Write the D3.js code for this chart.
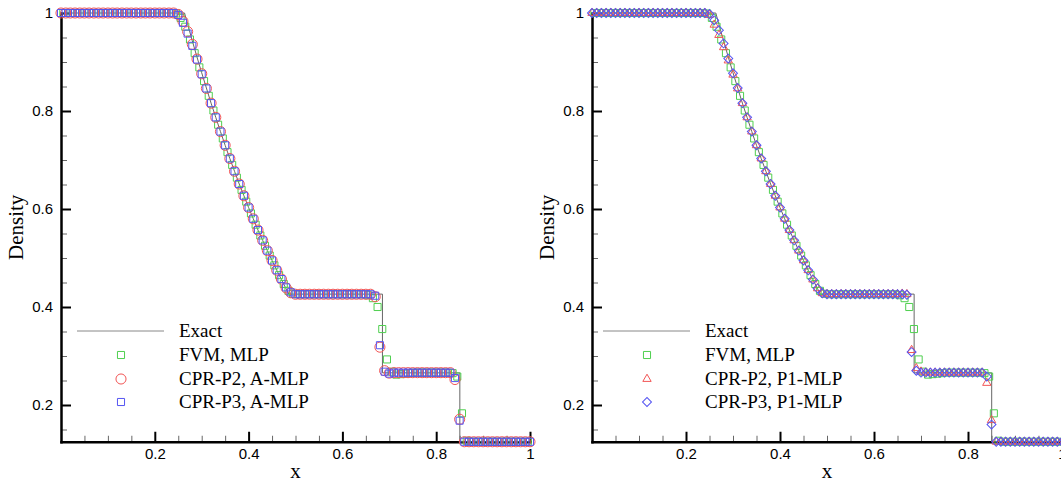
<!DOCTYPE html>
<html>
<head>
<meta charset="utf-8">
<script src="https://cdn.jsdelivr.net/npm/d3@7"></script>
<style>
  body { margin: 0; background: #fff; }
  svg { display: block; }
</style>
</head>
<body>
<div id="chart"></div>
<script>
// exact Sod solution
const exactX = [0, 0.2634, 0.27, 0.28, 0.29, 0.30, 0.31, 0.32, 0.33, 0.34, 0.35, 0.36, 0.37, 0.38, 0.39, 0.40,
  0.41, 0.42, 0.43, 0.44, 0.45, 0.46, 0.47, 0.48, 0.4859, 0.6854, 0.6854, 0.8504, 0.8504, 1];
const exactY = [1, 1, 0.977, 0.943, 0.910, 0.878, 0.847, 0.816, 0.787, 0.758, 0.730, 0.703, 0.677, 0.651, 0.627, 0.603,
  0.580, 0.557, 0.536, 0.515, 0.495, 0.475, 0.456, 0.437, 0.4263, 0.4263, 0.2656, 0.2656, 0.125, 0.125];

// FVM cell centres
const fvmX = [0.005,0.015,0.025,0.035,0.045,0.055,0.065,0.075,0.085,0.095,
  0.105,0.115,0.125,0.135,0.145,0.155,0.165,0.175,0.185,0.195,
  0.205,0.215,0.225,0.235,0.245,0.255,0.265,0.275,0.285,0.295,
  0.305,0.315,0.325,0.335,0.345,0.355,0.365,0.375,0.385,0.395,
  0.405,0.415,0.425,0.435,0.445,0.455,0.465,0.475,0.485,0.495,
  0.505,0.515,0.525,0.535,0.545,0.555,0.565,0.575,0.585,0.595,
  0.605,0.615,0.625,0.635,0.645,0.655,0.665,0.675,0.685,0.695,
  0.705,0.715,0.725,0.735,0.745,0.755,0.765,0.775,0.785,0.795,
  0.805,0.815,0.825,0.835,0.845,0.855,0.865,0.875,0.885,0.895,
  0.905,0.915,0.925,0.935,0.945,0.955,0.965,0.975,0.985,0.995];
const fvmY = [1,1,1,1,1,1,1,1,1,1, 1,1,1,1,1,1,1,1,1,1, 1,1,1,1,0.999,0.990,0.972,0.946,0.918,0.889,
  0.861,0.831,0.801,0.772,0.744,0.716,0.690,0.664,0.639,0.615, 0.591,0.568,0.546,0.525,0.505,0.485,0.465,0.447,0.433,0.427,
  0.426,0.426,0.426,0.426,0.426,0.426,0.426,0.426,0.426,0.426, 0.426,0.426,0.426,0.426,0.426,0.424,0.418,0.400,0.355,0.293,
  0.268,0.262,0.263,0.264,0.265,0.266,0.266,0.266,0.266,0.266, 0.266,0.266,0.266,0.265,0.258,0.183,0.127,0.125,0.125,0.125,
  0.125,0.125,0.125,0.125,0.125,0.125,0.125,0.125,0.125,0.125];

// CPR solution points
const cprX = [0,0.01,0.02,0.03,0.04,0.05,0.06,0.07,0.08,0.09,
  0.10,0.11,0.12,0.13,0.14,0.15,0.16,0.17,0.18,0.19,
  0.20,0.21,0.22,0.23,0.24,0.25,0.26,0.27,0.28,0.29,
  0.30,0.31,0.32,0.33,0.34,0.35,0.36,0.37,0.38,0.39,
  0.40,0.41,0.42,0.43,0.44,0.45,0.46,0.47,0.48,0.49,
  0.50,0.51,0.52,0.53,0.54,0.55,0.56,0.57,0.58,0.59,
  0.60,0.61,0.62,0.63,0.64,0.65,0.66,0.67,0.68,0.69,
  0.70,0.71,0.72,0.73,0.74,0.75,0.76,0.77,0.78,0.79,
  0.80,0.81,0.82,0.83,0.84,0.85,0.86,0.87,0.88,0.89,
  0.90,0.91,0.92,0.93,0.94,0.95,0.96,0.97,0.98,0.99,1.00];

const p2AmlpY = [1,1,1,1,1,1,1,1,1,1, 1,1,1,1,1,1,1,1,1,1, 1,1,1,1,1,0.997,0.983,0.962,0.936,0.906,
  0.876,0.846,0.816,0.787,0.758,0.730,0.703,0.677,0.651,0.627, 0.603,0.580,0.557,0.536,0.515,0.495,0.475,0.457,0.439,0.429,
  0.426,0.426,0.426,0.426,0.426,0.426,0.426,0.426,0.426,0.426, 0.426,0.426,0.426,0.426,0.426,0.426,0.426,0.421,0.318,0.270,
  0.265,0.266,0.266,0.266,0.266,0.266,0.266,0.266,0.266,0.266, 0.266,0.266,0.266,0.266,0.252,0.171,0.125,0.125,0.125,0.125,
  0.125,0.125,0.125,0.125,0.125,0.125,0.125,0.125,0.125,0.125,0.125];
const p3AmlpY = [1,1,1,1,1,1,1,1,1,1, 1,1,1,1,1,1,1,1,1,1, 1,1,1,1,1,0.996,0.980,0.958,0.933,0.905,
  0.875,0.846,0.816,0.787,0.758,0.730,0.703,0.677,0.651,0.627, 0.603,0.580,0.557,0.536,0.515,0.495,0.475,0.457,0.440,0.430,
  0.426,0.426,0.426,0.426,0.426,0.426,0.426,0.426,0.426,0.426, 0.426,0.426,0.426,0.426,0.426,0.426,0.426,0.423,0.322,0.268,
  0.264,0.266,0.266,0.266,0.266,0.266,0.266,0.266,0.266,0.266, 0.266,0.266,0.266,0.266,0.255,0.168,0.125,0.125,0.125,0.125,
  0.125,0.125,0.125,0.125,0.125,0.125,0.125,0.125,0.125,0.125,0.125];
const p2P1mlpY = [1,1,1,1,1,1,1,1,1,1, 1,1,1,1,1,1,1,1,1,1, 1,1,1,1,1,0.996,0.976,0.955,0.930,0.903,
  0.874,0.846,0.816,0.787,0.758,0.730,0.703,0.677,0.651,0.627, 0.603,0.580,0.557,0.536,0.515,0.495,0.475,0.456,0.438,0.428,
  0.426,0.426,0.426,0.426,0.426,0.426,0.426,0.426,0.426,0.426, 0.426,0.426,0.426,0.426,0.426,0.426,0.427,0.426,0.312,0.275,
  0.268,0.266,0.266,0.266,0.266,0.266,0.266,0.266,0.266,0.266, 0.266,0.266,0.266,0.266,0.245,0.169,0.125,0.125,0.125,0.125,
  0.125,0.125,0.125,0.125,0.125,0.125,0.125,0.125,0.125,0.125,0.125];
const p3P1mlpY = [1,1,1,1,1,1,1,1,1,1, 1,1,1,1,1,1,1,1,1,1, 1,1,1,1,1,0.998,0.985,0.965,0.938,0.907,
  0.877,0.847,0.816,0.787,0.758,0.730,0.703,0.677,0.651,0.627, 0.603,0.580,0.557,0.536,0.515,0.495,0.475,0.456,0.438,0.428,
  0.426,0.426,0.426,0.426,0.426,0.426,0.426,0.426,0.426,0.426, 0.426,0.426,0.426,0.426,0.426,0.426,0.426,0.425,0.308,0.270,
  0.266,0.266,0.266,0.266,0.266,0.266,0.266,0.266,0.266,0.266, 0.266,0.266,0.266,0.266,0.258,0.160,0.125,0.125,0.125,0.125,
  0.125,0.125,0.125,0.125,0.125,0.125,0.125,0.125,0.125,0.125,0.125];

const xMajor = [0.2, 0.4, 0.6, 0.8, 1];
const xMinor = [0.05,0.1,0.15,0.25,0.3,0.35,0.45,0.5,0.55,0.65,0.7,0.75,0.85,0.9,0.95];
const yMajor = [0.2, 0.4, 0.6, 0.8, 1];
const yMinor = [0.15,0.25,0.3,0.35,0.45,0.5,0.55,0.65,0.7,0.75,0.85,0.9,0.95];

const green = "#4fcf4f", red = "#f25555", blue = "#5555f2";

const W = 1061, H = 485;
const svg = d3.select("#chart").append("svg").attr("width", W).attr("height", H);

const sans = "'Liberation Sans', Arial, Helvetica, sans-serif";
const serif = "'Liberation Serif', 'Times New Roman', Times, serif";

function shape(type) {
  if (type === "square") return d3.symbol(d3.symbolSquare, 50)();
  if (type === "circle") return d3.symbol(d3.symbolCircle, 80)();
  if (type === "triangle") return d3.symbol(d3.symbolTriangle, 30)();
  return d3.symbol(d3.symbolSquare, 40)(); // diamond, rotated below
}

function drawPanel(cfg) {
  let x = d3.scaleLinear().domain([0, 1]).range([cfg.left, cfg.left + cfg.width]);
  let y = d3.scaleLinear().domain([0.125, 1]).range([441.75, 13]);
  let g = svg.append("g");

  // minor ticks
  g.append("g")
    .attr("transform", `translate(0,${y(0.125)})`)
    .call(d3.axisBottom(x).tickValues(xMinor).tickSize(-6).tickFormat(""))
    .call(s => { s.select(".domain").remove(); s.selectAll("line").attr("stroke", "#666").attr("stroke-width", 1); });
  g.append("g")
    .attr("transform", `translate(${x(0)},0)`)
    .call(d3.axisLeft(y).tickValues(yMinor).tickSize(-6).tickFormat(""))
    .call(s => { s.select(".domain").remove(); s.selectAll("line").attr("stroke", "#666").attr("stroke-width", 1); });

  // major ticks + axis lines
  let xa = g.append("g")
    .attr("transform", `translate(0,${y(0.125)})`)
    .call(d3.axisBottom(x).tickValues(xMajor).tickSize(-10).tickSizeOuter(0).tickPadding(7).tickFormat(d3.format("~g")));
  let ya = g.append("g")
    .attr("transform", `translate(${x(0)},0)`)
    .call(d3.axisLeft(y).tickValues(yMajor).tickSize(-10).tickSizeOuter(0).tickPadding(8).tickFormat(d3.format("~g")));
  [xa, ya].forEach(a => {
    a.select(".domain").attr("stroke", "#000").attr("stroke-width", 2.5).attr("stroke-linecap", "square");
    a.selectAll(".tick line").attr("stroke", "#000").attr("stroke-width", 2);
    a.selectAll("text").attr("font-family", sans).attr("font-size", 15).attr("fill", "#000");
  });

  // axis titles
  g.append("text")
    .attr("transform", `translate(${x(0) - 45},${(y(1) + y(0.125)) / 2}) rotate(-90)`)
    .attr("text-anchor", "middle").attr("dy", "0.35em")
    .attr("font-family", serif).attr("font-size", 21)
    .text("Density");
  g.append("text")
    .attr("x", (x(0) + x(1)) / 2).attr("y", 478)
    .attr("text-anchor", "middle")
    .attr("font-family", serif).attr("font-size", 21)
    .text("x");

  // exact line
  let line = d3.line().x((d, i) => x(exactX[i])).y(d => y(d));
  g.append("path")
    .datum(exactY)
    .attr("d", line)
    .attr("fill", "none")
    .attr("stroke", "#666")
    .attr("stroke-width", 1);

  // numerical series
  for (let s of cfg.series) {
    g.append("g").selectAll("path")
      .data(s.ys)
      .join("path")
      .attr("d", shape(s.shape))
      .attr("transform", (d, i) => `translate(${x(s.xs[i])},${y(d)})` + (s.shape === "diamond" ? " rotate(45)" : ""))
      .attr("fill", "none")
      .attr("stroke", s.color)
      .attr("stroke-width", 1);
  }

  // legend
  let lg = g.append("g");
  let rows = [331, 355, 379, 402];
  lg.append("line")
    .attr("x1", x(0) + cfg.leg.line0).attr("x2", x(0) + cfg.leg.line1)
    .attr("y1", rows[0]).attr("y2", rows[0])
    .attr("stroke", "#888").attr("stroke-width", 1);
  lg.append("text")
    .attr("x", x(0) + cfg.leg.text).attr("y", rows[0] + 6)
    .attr("font-family", serif).attr("font-size", 19)
    .text("Exact");
  cfg.series.forEach((s, i) => {
    lg.append("path")
      .attr("d", shape(s.shape))
      .attr("transform", `translate(${x(0) + cfg.leg.marker},${rows[i + 1]})` + (s.shape === "diamond" ? " rotate(45)" : ""))
      .attr("fill", "none").attr("stroke", s.color).attr("stroke-width", 1);
    lg.append("text")
      .attr("x", x(0) + cfg.leg.text).attr("y", rows[i + 1] + 6)
      .attr("font-family", serif).attr("font-size", 19)
      .text(s.name);
  });
}

drawPanel({
  left: 61, width: 469,
  leg: {line0: 16, line1: 103, marker: 60, text: 118},
  series: [
    {name: "FVM, MLP", xs: fvmX, ys: fvmY, shape: "square", color: green},
    {name: "CPR-P2, A-MLP", xs: cprX, ys: p2AmlpY, shape: "circle", color: red},
    {name: "CPR-P3, A-MLP", xs: cprX, ys: p3AmlpY, shape: "square", color: blue}
  ]
});

drawPanel({
  left: 592, width: 470,
  leg: {line0: 11, line1: 98, marker: 55, text: 113},
  series: [
    {name: "FVM, MLP", xs: fvmX, ys: fvmY, shape: "square", color: green},
    {name: "CPR-P2, P1-MLP", xs: cprX, ys: p2P1mlpY, shape: "triangle", color: red},
    {name: "CPR-P3, P1-MLP", xs: cprX, ys: p3P1mlpY, shape: "diamond", color: blue}
  ]
});
</script>
</body>
</html>
